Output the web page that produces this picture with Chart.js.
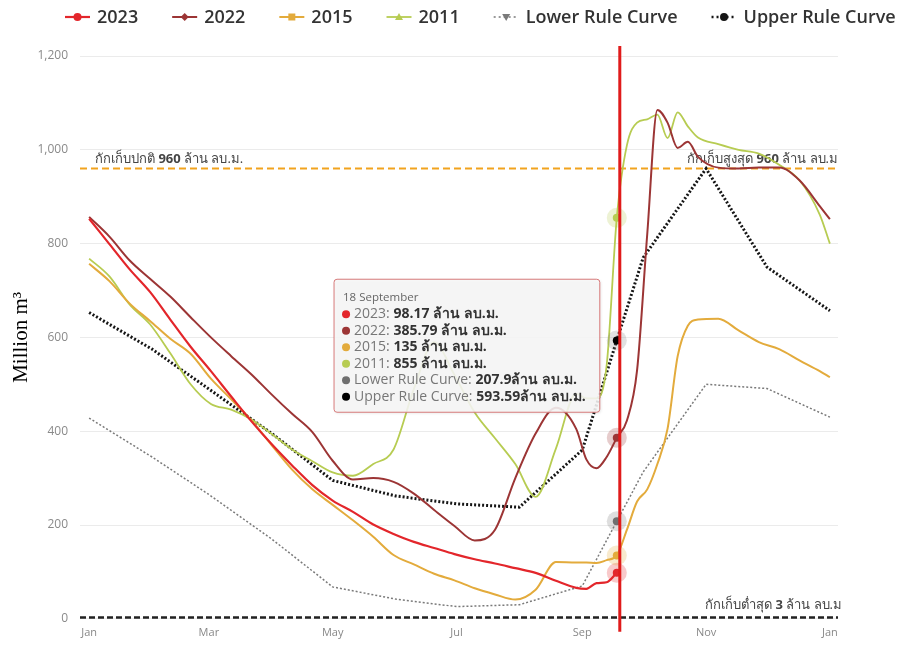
<!DOCTYPE html>
<html>
<head>
<meta charset="utf-8">
<script src="https://cdn.jsdelivr.net/npm/chart.js@4.4.0/dist/chart.umd.min.js"></script>
<style>
  html, body { margin: 0; padding: 0; background: #fff; }
  #wrap { width: 901px; height: 646px; }
</style>
</head>
<body>
<div id="wrap"><canvas id="chart"></canvas></div>
<script>
// day of year for the observed series
const days = [0,10,20,30,40,50,60,70,80,90,100,110,120,130,140,150,160,170,180,190,200,210,220,230,240,
  245,250,255,260,265,270,275,280,285,290,295,300,310,320,330,340,350,360,365];

const y2023 = [853,799,745,697,638,580,528,474,421,372,327,285,252,228,201,181,164,151,138,127,118,108,98,81,66,
  64,76,78,98.17,null,null,null,null,null,null,null,null,null,null,null,null,null,null,null];
const y2022 = [857,815,764,725,687,643,600,560,521,478,437,398,337,297,300,292,267,232,198,167,190,300,395,450,405,
  340,321,345,385.79,423,530,820,1085,1058,1004,1017,985,962,960,962,962,935,880,852];
const y2015 = [757,720,672,635,597,565,512,468,423,370,318,276,243,210,175,136,116,96,82,65,52,41,62,121,120,
  120,119,125,135,190,250,276,330,405,560,625,638,640,615,590,575,551,528,515];
const y2011 = [768,730,670,628,566,500,458,446,425,394,361,336,312,305,330,361,490,590,520,440,385,330,260,363,480,
  470,470,540,855,1010,1058,1065,1075,1025,1080,1050,1026,1012,1000,992,968,935,862,800];

// rule curves (month starts + 18 Sep)
const ruleDays = [0,31,59,90,120,151,181,212,243,260,273,304,334,365];
const lowerRule = [428,345,265,170,68,42,26,30,70,207.9,313,500,491,430];
const upperRule = [653,575,490,395,295,262,245,238,360,593.59,770,960,750,657];

const monthDays = [0,59,120,181,243,304,365];
const monthLabels = ['Jan','Mar','May','Jul','Sep','Nov','Jan'];

const markerDay = 260;
const markerTitle = '18 September';
const normalLevel = 960;
const maxLevel = 960;
const minLevel = 3;

const FONT = '"Open Sans", "Noto Sans", "DejaVu Sans", sans-serif';

const pts = (xs, ys) => xs.map((x, i) => ({ x: x, y: ys[i] }));

const series = [
  { label: '2023', xs: days, ys: y2023, color: '#e3262b', width: 2.2, dash: [], marker: 'circle', unit: ' ล้าน ลบ.ม.', tipDot: '#e3262b' },
  { label: '2022', xs: days, ys: y2022, color: '#9c3535', width: 2, dash: [], marker: 'diamond', unit: ' ล้าน ลบ.ม.', tipDot: '#9c3535' },
  { label: '2015', xs: days, ys: y2015, color: '#e3ab3c', width: 2, dash: [], marker: 'square', unit: ' ล้าน ลบ.ม.', tipDot: '#e3ab3c' },
  { label: '2011', xs: days, ys: y2011, color: '#b7cc52', width: 1.8, dash: [], marker: 'triangle', unit: ' ล้าน ลบ.ม.', tipDot: '#b7cc52' },
  { label: 'Lower Rule Curve', xs: ruleDays, ys: lowerRule, color: '#7a7a7a', width: 1.5, dash: [2, 2], marker: 'triangleDown', unit: 'ล้าน ลบ.ม.', tipDot: '#6f6f6f' },
  { label: 'Upper Rule Curve', xs: ruleDays, ys: upperRule, color: '#151515', width: 3, dash: [2, 2], marker: 'circle', unit: 'ล้าน ลบ.ม.', tipDot: '#000' }
];

function drawMarker(ctx, type, x, y, color) {
  ctx.save();
  ctx.fillStyle = color;
  ctx.beginPath();
  if (type === 'circle') ctx.arc(x, y, 4, 0, Math.PI * 2);
  else if (type === 'square') ctx.rect(x - 3.5, y - 3.5, 7, 7);
  else if (type === 'diamond') { ctx.moveTo(x, y - 4); ctx.lineTo(x + 4, y); ctx.lineTo(x, y + 4); ctx.lineTo(x - 4, y); }
  else if (type === 'triangle') { ctx.moveTo(x, y - 4); ctx.lineTo(x + 4, y + 3); ctx.lineTo(x - 4, y + 3); }
  else if (type === 'triangleDown') { ctx.moveTo(x, y + 4); ctx.lineTo(x + 4, y - 3); ctx.lineTo(x - 4, y - 3); }
  ctx.closePath();
  ctx.fill();
  ctx.restore();
}

function drawPieces(ctx, pieces, x, y, align) {
  let total = 0;
  pieces.forEach(p => { ctx.font = p[1]; total += ctx.measureText(p[0]).width; });
  let cx = align === 'right' ? x - total : x;
  ctx.textAlign = 'left';
  pieces.forEach(p => {
    ctx.font = p[1];
    ctx.fillText(p[0], cx, y);
    cx += ctx.measureText(p[0]).width;
  });
}

const refLines = {
  id: 'refLines',
  beforeDatasetsDraw(chart) {
    const { ctx, chartArea: a, scales: { y } } = chart;
    const norm = `13px ${FONT}`, bold = `bold 13px ${FONT}`;
    ctx.save();
    // normal / max storage
    const yn = y.getPixelForValue(normalLevel);
    ctx.strokeStyle = '#f2a31e';
    ctx.lineWidth = 2;
    ctx.setLineDash([7, 4]);
    ctx.beginPath(); ctx.moveTo(a.left, yn); ctx.lineTo(a.right, yn); ctx.stroke();
    // min storage
    const ym = y.getPixelForValue(minLevel);
    ctx.strokeStyle = '#222';
    ctx.lineWidth = 2.5;
    ctx.setLineDash([6, 3]);
    ctx.beginPath(); ctx.moveTo(a.left, ym); ctx.lineTo(a.right, ym); ctx.stroke();
    ctx.setLineDash([]);
    ctx.fillStyle = '#444';
    ctx.textBaseline = 'alphabetic';
    drawPieces(ctx, [['กักเก็บปกติ ', norm], [String(normalLevel), bold], [' ล้าน ลบ.ม.', norm]], a.left + 15, yn - 6, 'left');
    drawPieces(ctx, [['กักเก็บสูงสุด ', norm], [String(maxLevel), bold], [' ล้าน ลบ.ม', norm]], a.right, yn - 6, 'right');
    drawPieces(ctx, [['กักเก็บต่ำสุด ', norm], [String(minLevel), bold], [' ล้าน ลบ.ม', norm]], a.right + 4, ym - 8, 'right');
    ctx.restore();
  },
  afterDatasetsDraw(chart) {
    const { ctx, chartArea: a, scales: { x, y } } = chart;
    const px = x.getPixelForValue(markerDay);
    ctx.save();
    // highlighted points
    series.forEach(s => {
      const i = s.xs.indexOf(markerDay);
      const py = y.getPixelForValue(s.ys[i]);
      ctx.globalAlpha = 0.25;
      ctx.fillStyle = s.tipDot === '#000' ? '#888' : s.color;
      ctx.beginPath(); ctx.arc(px, py, 10, 0, Math.PI * 2); ctx.fill();
      ctx.globalAlpha = 1;
      ctx.fillStyle = s.tipDot;
      ctx.beginPath(); ctx.arc(px, py, 4, 0, Math.PI * 2); ctx.fill();
    });
    // today line
    ctx.strokeStyle = '#e01b1b';
    ctx.lineWidth = 3;
    ctx.beginPath(); ctx.moveTo(px + 3, a.top - 10); ctx.lineTo(px + 3, a.bottom + 13); ctx.stroke();
    ctx.restore();
  },
  afterDraw(chart) {
    const { ctx, scales: { x, y } } = chart;
    ctx.save();
    // legend
    ctx.font = `600 18px ${FONT}`;
    ctx.textBaseline = 'middle';
    let lx = 65;
    const ly = 17;
    series.forEach(s => {
      ctx.strokeStyle = s.color;
      ctx.lineWidth = Math.min(s.width, 2.5);
      ctx.setLineDash(s.dash.length ? [2, 3] : []);
      ctx.beginPath(); ctx.moveTo(lx, ly); ctx.lineTo(lx + 25, ly); ctx.stroke();
      ctx.setLineDash([]);
      drawMarker(ctx, s.marker, lx + 12.5, ly, s.color);
      ctx.font = `600 18px ${FONT}`;
      ctx.fillStyle = '#333';
      ctx.textAlign = 'left';
      ctx.fillText(s.label, lx + 32, ly + 1);
      lx += 32 + ctx.measureText(s.label).width + 34;
    });

    // tooltip
    const px = x.getPixelForValue(markerDay);
    const rowFont = `14px ${FONT}`, valFont = `bold 14px ${FONT}`, titleFont = `11.5px ${FONT}`;
    const rows = series.map(s => {
      const v = s.ys[s.xs.indexOf(markerDay)];
      return { dot: s.tipDot, label: s.label + ': ', value: String(v) + s.unit };
    });
    let w = 0;
    rows.forEach(r => {
      ctx.font = rowFont; const a = ctx.measureText(r.label).width;
      ctx.font = valFont; const b = ctx.measureText(r.value).width;
      w = Math.max(w, 20 + a + b);
    });
    w += 14;
    const h = 133;
    const right = px - 17;
    const left = right - w;
    const top = y.getPixelForValue(724);
    ctx.shadowColor = 'rgba(0,0,0,0.12)';
    ctx.shadowOffsetX = 1; ctx.shadowOffsetY = 1; ctx.shadowBlur = 3;
    ctx.fillStyle = 'rgba(247,247,247,0.88)';
    ctx.beginPath(); ctx.roundRect(left, top, w, h, 3); ctx.fill();
    ctx.shadowColor = 'transparent';
    ctx.strokeStyle = '#d77a7a';
    ctx.lineWidth = 1;
    ctx.stroke();
    ctx.fillStyle = '#666';
    ctx.font = titleFont;
    ctx.textBaseline = 'middle';
    ctx.fillText(markerTitle, left + 9, top + 18);
    rows.forEach((r, i) => {
      const ry = top + 35 + i * 16.5;
      ctx.fillStyle = r.dot;
      ctx.beginPath(); ctx.arc(left + 12, ry, 4, 0, Math.PI * 2); ctx.fill();
      ctx.font = rowFont; ctx.fillStyle = '#777';
      ctx.fillText(r.label, left + 20, ry);
      const lw = ctx.measureText(r.label).width;
      ctx.font = valFont; ctx.fillStyle = '#333';
      ctx.fillText(r.value, left + 20 + lw, ry);
    });
    ctx.restore();
  }
};

const datasets = series.map(s => ({
  label: s.label,
  data: pts(s.xs, s.ys),
  borderColor: s.color,
  backgroundColor: s.color,
  borderWidth: s.width,
  borderDash: s.dash,
  pointRadius: 0,
  fill: false,
  spanGaps: false,
  cubicInterpolationMode: s.dash.length ? 'default' : 'monotone',
  tension: s.dash.length ? 0 : 0.4
}));

new Chart(document.getElementById('chart'), {
  type: 'line',
  data: { datasets: datasets },
  options: {
    responsive: true,
    maintainAspectRatio: false,
    animation: false,
    layout: { padding: { top: 56, right: 63, left: 0, bottom: 0 } },
    plugins: { legend: { display: false }, tooltip: { enabled: false } },
    scales: {
      x: {
        type: 'linear',
        min: -4.5,
        max: 369,
        afterBuildTicks: (scale) => { scale.ticks = monthDays.map(v => ({ value: v })); },
        ticks: {
          callback: (v, i) => monthLabels[i],
          color: '#888',
          font: { family: FONT, size: 11 },
          padding: 7,
          maxRotation: 0,
          autoSkip: false
        },
        grid: { display: false, drawTicks: false },
        border: { display: false }
      },
      y: {
        min: 0,
        max: 1200,
        afterFit: (scale) => { scale.width = 80; },
        ticks: {
          stepSize: 200,
          color: '#8a8a8a',
          font: { family: FONT, size: 12 },
          padding: 12,
          callback: (v) => v.toLocaleString('en-US')
        },
        grid: { color: '#ebebeb', drawTicks: false },
        border: { display: false },
        title: {
          display: true,
          text: 'Million m³',
          color: '#000',
          font: { family: '"Liberation Serif", "DejaVu Serif", serif', size: 21 },
          padding: { top: 9, bottom: 0 }
        }
      }
    }
  },
  plugins: [refLines]
});
</script>
</body>
</html>
